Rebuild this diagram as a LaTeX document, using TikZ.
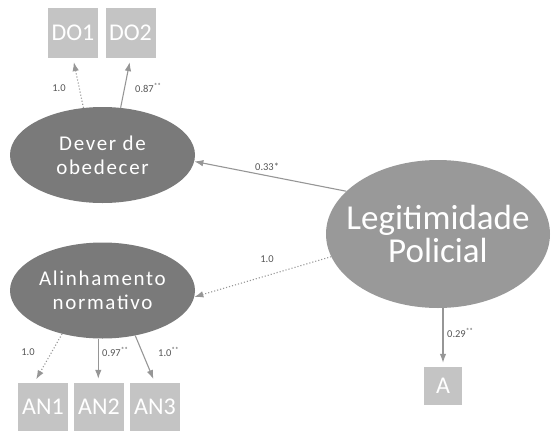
\documentclass[tikz,border=0pt]{standalone}
\usepackage{fontspec}
\setmainfont{Carlito}
\usetikzlibrary{shapes.geometric,arrows.meta}
\definecolor{latente}{RGB}{122,122,122}
\definecolor{legit}{RGB}{153,153,153}
\definecolor{caixa}{RGB}{196,196,196}
\definecolor{seta}{RGB}{150,150,150}
\definecolor{rotulo}{RGB}{85,85,85}

\begin{document}
\begin{tikzpicture}[x=1pt,y=-1pt,
  lat/.style={ellipse,fill=latente,text=white,inner sep=0pt,minimum width=185pt,minimum height=96pt,align=center,
    font=\fontsize{21}{24}\selectfont\addfontfeature{LetterSpace=8}},
  obs/.style={fill=caixa,text=white,inner sep=0pt,minimum width=50pt,minimum height=48pt,font=\fontsize{24}{24}\selectfont},
  arr/.style={draw=seta,line width=1.1pt,-{Latex[length=9pt,width=6.5pt]},shorten >=4pt},
  pont/.style={arr,dotted},
  lab/.style={text=rotulo,inner sep=0pt,font=\fontsize{10.5}{12}\selectfont}]
\useasboundingbox (0,0) rectangle (555,432);
\node [obs,minimum height=50pt] (do1) at (73,33) {DO1};
\node [obs,minimum height=50pt] (do2) at (130.5,33) {DO2};
\node [lat] (dever) at (102.5,155) {Dever de\\obedecer};
\node [lat] (alinh) at (102.5,290.5) {Alinhamento\\normativo};
\node [ellipse,fill=legit,text=white,inner xsep=-22pt,inner ysep=0pt,minimum width=224pt,minimum height=148pt,align=center,
  font=\fontsize{35}{33}\selectfont] (legit) at (438,234) {Legitimidade\\Policial};
\node [obs] (an1) at (43,407) {AN1};
\node [obs] (an2) at (99,407) {AN2};
\node [obs] (an3) at (155,407) {AN3};
\node [obs,minimum width=38pt,minimum height=38pt] (a) at (443,386) {A};
\draw [pont] (dever.112) -- (do1.south);
\draw [arr] (dever.69) -- (do2.south);
\draw [arr,shorten >=0pt] (legit.155) -- (dever.-4);
\draw [pont,shorten >=0pt] (legit.192) -- (alinh.-4);
\draw [pont] (alinh.227) -- (an1.110);
\draw [arr] (alinh.265) -- (alinh.265 |- an2.north);
\draw [arr] (alinh.306) -- (an3.north);
\draw [arr] (a.north |- legit.south) -- (a.north);
\node [lab] (l1) at (59,88) {1.0};
\node [lab,anchor=west] (l2) at (135,88) {0.87\textsuperscript{**}};
\node [lab,anchor=west] (l3) at (255,167) {0.33*};
\node [lab] (l4) at (267,259) {1.0};
\node [lab] (l5) at (28,352) {1.0};
\node [lab,anchor=west] (l6) at (102,352) {0.97\textsuperscript{**}};
\node [lab,anchor=west] (l7) at (158,352) {1.0\textsuperscript{**}};
\node [lab,anchor=west] (l8) at (447,333) {0.29\textsuperscript{**}};
\end{tikzpicture}
\end{document}
